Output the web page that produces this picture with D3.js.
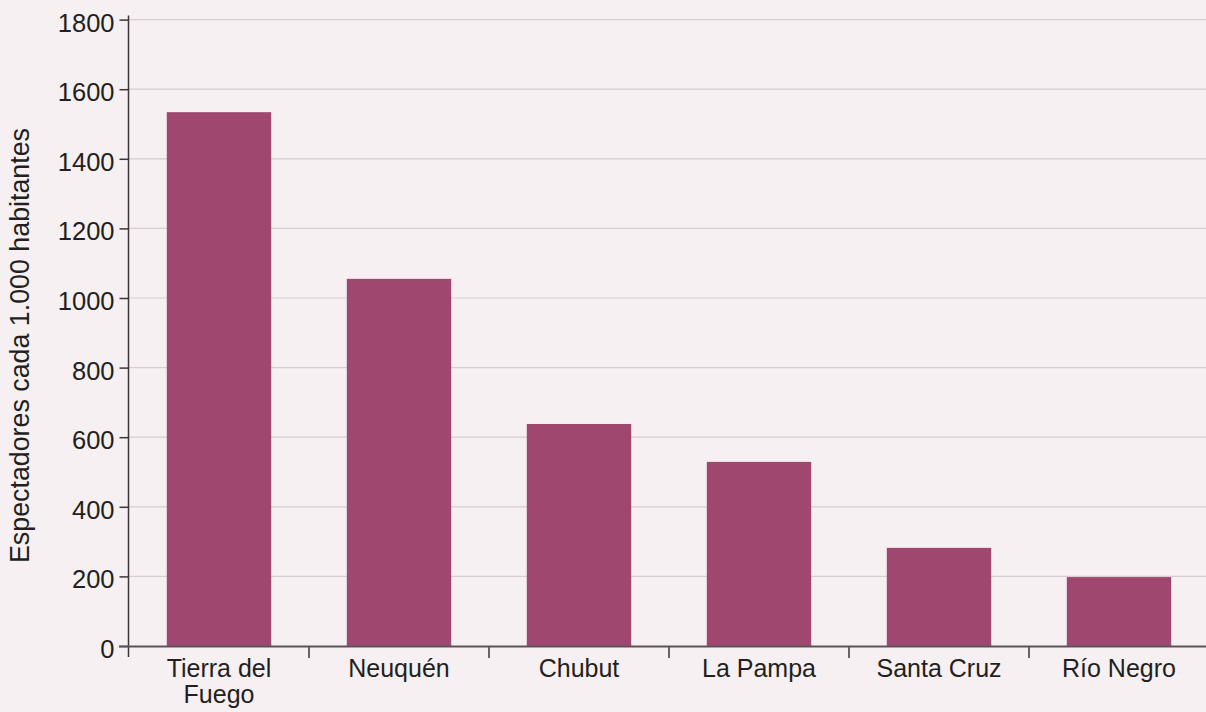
<!DOCTYPE html>
<html><head><meta charset="utf-8">
<script src="https://cdn.jsdelivr.net/npm/d3@7"></script>
<style>
html,body{margin:0;padding:0;background:#f6f0f2;}
svg{display:block;}
text{font-family:"Liberation Sans",Arial,Helvetica,sans-serif;fill:#231f20;}
</style></head>
<body>
<svg id="chart" width="1206" height="712"></svg>
<script>
const categories = ["Tierra del Fuego","Neuquén","Chubut","La Pampa","Santa Cruz","Río Negro"];
const values = [1534, 1055, 638, 529, 282, 198];
const yTicks = [0,200,400,600,800,1000,1200,1400,1600,1800];
const yTitle = "Espectadores cada 1.000 habitantes";

(function(){
const W = 1206, H = 712;
const svg = d3.select("#chart");
svg.append("rect").attr("width",W).attr("height",H).attr("fill","#f6f0f2");

const left = 129, plotRight = 1209, bottom = 646, plotTop = 19.6;
const x = d3.scaleBand().domain(categories).range([left, plotRight]).paddingInner(0.42).paddingOuter(0.21);
const y = d3.scaleLinear().domain([0,1800]).range([bottom, plotTop]);

// gridlines
svg.append("g").selectAll("line").data(yTicks.filter(d=>d>0)).join("line")
  .attr("x1", left).attr("x2", W).attr("y1", d=>y(d)).attr("y2", d=>y(d))
  .attr("stroke","#d6cdd1").attr("stroke-width",1.2);

// bars
svg.append("g").selectAll("rect").data(categories).join("rect")
  .attr("x", d=>x(d)).attr("width", x.bandwidth())
  .attr("y", (d,i)=>y(values[i])).attr("height", (d,i)=>y(0)-y(values[i]))
  .attr("fill","#a0476f");

// y axis
const yAxis = d3.axisLeft(y).tickValues(yTicks).tickSize(9).tickPadding(5).tickFormat(d3.format("d"));
const gy = svg.append("g").attr("transform",`translate(${left-0.5},0)`).call(yAxis);
gy.select(".domain").remove();
gy.append("line").attr("x1",0).attr("x2",0).attr("y1",y(1800)-4).attr("y2",bottom+11).attr("stroke","#3a3536").attr("stroke-width",1.5);
gy.selectAll(".tick line").attr("stroke","#3a3536").attr("stroke-width",1.5);
gy.selectAll(".tick text").attr("font-size",25.5).attr("fill","#231f20").attr("dy","0.45em")
  .style("font-family",'"Liberation Sans",Arial,sans-serif');

// x axis line
svg.append("line").attr("x1",left-10).attr("x2",W).attr("y1",bottom+0.5).attr("y2",bottom+0.5)
  .attr("stroke","#5b5557").attr("stroke-width",2);
// boundary ticks
const gap = (x.step()-x.bandwidth())/2;
svg.append("g").selectAll("line").data(categories.slice(1)).join("line")
  .attr("x1", d=>x(d)-gap).attr("x2", d=>x(d)-gap)
  .attr("y1", bottom).attr("y2", bottom+12)
  .attr("stroke","#5b5557").attr("stroke-width",1.8);

// x labels
const xl = svg.append("g").selectAll("text").data(categories).join("text")
  .attr("x", d=>x(d)+x.bandwidth()/2).attr("y", 677)
  .attr("text-anchor","middle").attr("font-size",25);
xl.each(function(d){
  const t = d3.select(this);
  let lines = [d];
  if (d.length > 12) { const k = d.lastIndexOf(" "); lines = [d.slice(0,k), d.slice(k+1)]; }
  lines.forEach((ln,i)=>t.append("tspan").attr("x", x(d)+x.bandwidth()/2).attr("dy", i?25.5:0).text(ln));
});

// y title
svg.append("text").attr("transform",`translate(28.5,345.5) rotate(-90)`)
  .attr("text-anchor","middle").attr("font-size",26.8).text(yTitle);
})();
</script>
</body></html>
